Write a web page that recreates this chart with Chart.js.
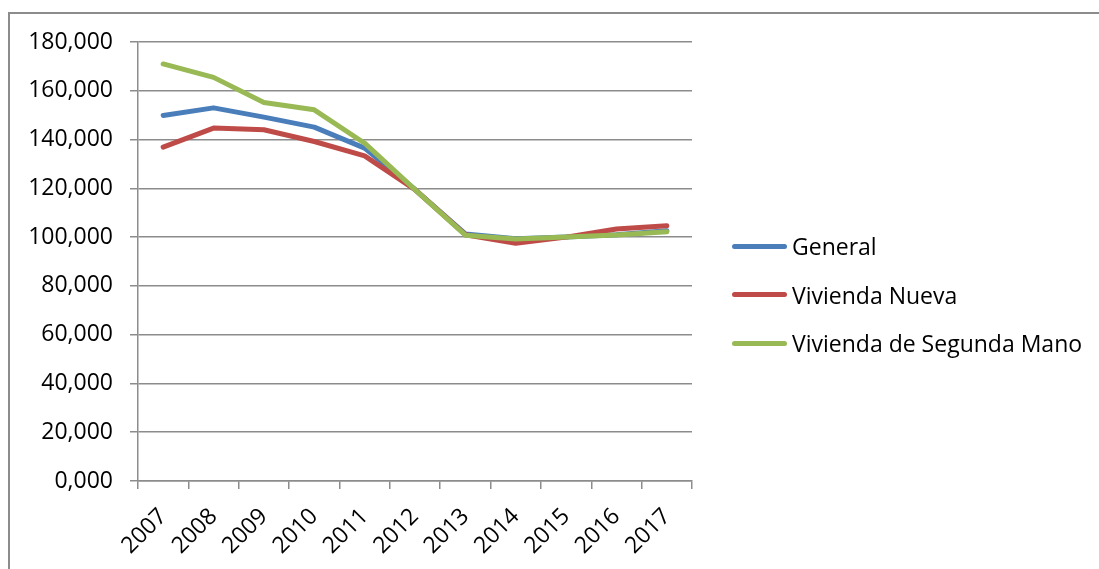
<!DOCTYPE html>
<html lang="es">
<head>
    <meta charset="UTF-8">
    <title>Vivienda</title>
    <script src="https://cdn.jsdelivr.net/npm/chart.js"></script>
    <style>
        body { margin: 0; background: #fff; }
        .wrap { position: relative; width: 1099px; height: 569px; overflow: hidden; }
        .frame { position: absolute; left: 8px; top: 12px; width: 1200px; height: 700px;
                 border-left: 2px solid #8c8c8c; border-top: 2px solid #8c8c8c; }
        canvas { position: absolute; left: 0; top: 0; }
        #legend { position: absolute; left: 732px; top: 222px; margin: 0; padding: 0; list-style: none;
                  font-family: 'Open Sans', sans-serif; font-size: 23px; color: #000; }
        #legend li { display: flex; align-items: center; height: 48.5px; white-space: nowrap; }
        #legend span.swatch { display: inline-block; width: 55px; height: 5px; border-radius: 2.5px; margin-right: 5px; }
    </style>
</head>
<body>
<div class="wrap">
    <div class="frame"></div>
    <canvas id="chart" width="1099" height="569"></canvas>
    <ul id="legend"></ul>
</div>

<script>
    const years = ['2007', '2008', '2009', '2010', '2011', '2012', '2013', '2014', '2015', '2016', '2017'];
    const general = [149900, 153000, 149200, 145100, 136500, 119500, 101300, 99300, 100000, 101000, 102600];
    const viviendaNueva = [136900, 144700, 144000, 139200, 133300, 119500, 101000, 97500, 100000, 103300, 104700];
    const segundaMano = [171000, 165500, 155200, 152200, 138500, 119500, 100800, 99200, 100000, 100900, 102200];

    const gridColor = '#8c8c8c';
    const font = { family: "'Open Sans', sans-serif", size: 23 };

    function line(label, data, color, order) {
        return {
            label: label,
            data: data,
            borderColor: color,
            backgroundColor: color,
            borderWidth: 5,
            pointRadius: 0,
            tension: 0,
            borderCapStyle: 'round',
            borderJoinStyle: 'round',
            order: order
        };
    }

    // legend built from the chart's own legend items, laid out in html
    const htmlLegend = {
        id: 'htmlLegend',
        afterUpdate(chart) {
            const list = document.getElementById('legend');
            list.innerHTML = '';
            const items = chart.options.plugins.legend.labels.generateLabels(chart)
                .sort((a, b) => a.datasetIndex - b.datasetIndex);
            items.forEach(item => {
                const li = document.createElement('li');
                const swatch = document.createElement('span');
                swatch.className = 'swatch';
                swatch.style.background = item.strokeStyle;
                li.appendChild(swatch);
                li.appendChild(document.createTextNode(item.text));
                list.appendChild(li);
            });
        }
    };

    const ctx = document.getElementById('chart').getContext('2d');
    new Chart(ctx, {
        type: 'line',
        data: {
            labels: years,
            datasets: [
                line('General', general, '#4a7ebb', 2),
                line('Vivienda Nueva', viviendaNueva, '#be4b48', 1),
                line('Vivienda de Segunda Mano', segundaMano, '#98b954', 0)
            ]
        },
        options: {
            responsive: false,
            animation: false,
            layout: { padding: { left: 0, top: 42, right: 407, bottom: 0 } },
            plugins: {
                tooltip: { enabled: false },
                legend: { display: false }
            },
            scales: {
                x: {
                    offset: true,
                    grid: { display: true, drawOnChartArea: false, drawTicks: true, tickLength: 8, color: gridColor, lineWidth: 1.5, offset: true },
                    border: { color: gridColor, width: 1.5 },
                    ticks: { color: '#000', font: font, minRotation: 45, maxRotation: 45, padding: 14 },
                    afterFit: scale => { scale.height = 88; }
                },
                y: {
                    min: 0,
                    max: 180000,
                    grid: { color: gridColor, lineWidth: 1.5, tickLength: 8 },
                    border: { color: gridColor, width: 1.5 },
                    ticks: {
                        color: '#000',
                        font: font,
                        stepSize: 20000,
                        padding: 17,
                        callback: v => (v / 1000) + ',000'
                    },
                    afterFit: scale => { scale.width = 138; }
                }
            }
        },
        plugins: [htmlLegend]
    });
</script>
</body>
</html>
